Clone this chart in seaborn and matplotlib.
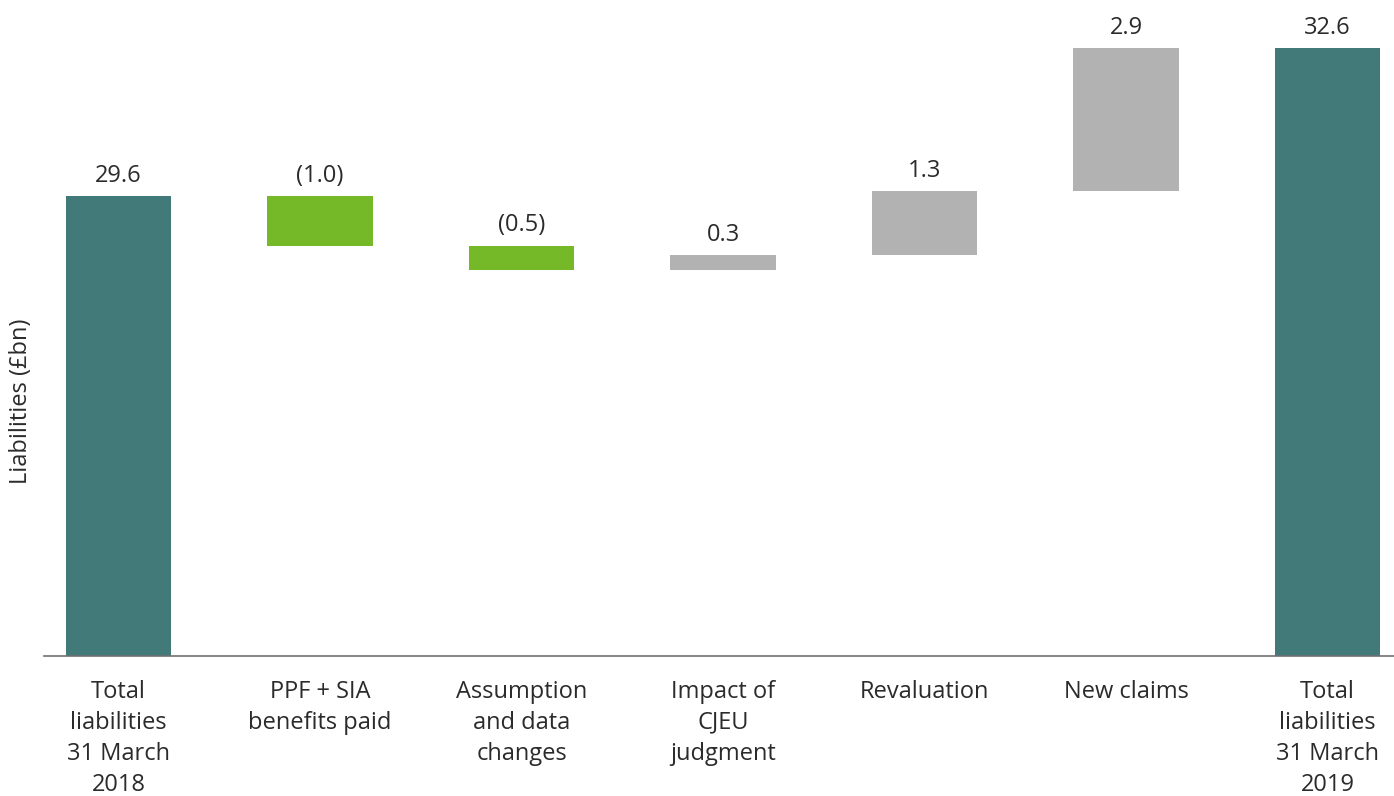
import matplotlib
matplotlib.use("Agg")
import matplotlib.pyplot as plt
import numpy as np
import pandas as pd
import seaborn as sns

# Movement in liabilities, £bn
categories = [
    "Total\nliabilities\n31 March\n2018",
    "PPF + SIA\nbenefits paid",
    "Assumption\nand data\nchanges",
    "Impact of\nCJEU\njudgment",
    "Revaluation",
    "New claims",
    "Total\nliabilities\n31 March\n2019",
]
changes = [29.6, -1.0, -0.5, 0.3, 1.3, 2.9, 32.6]
kinds = ["total", "change", "change", "change", "change", "change", "total"]

TEAL = "#427979"
GREEN = "#76b928"
GREY = "#b2b2b2"
TEXT = "#2b2b2b"

# Floating bar geometry for the waterfall
bottoms, heights = [], []
running = 0.0
for v, k in zip(changes, kinds):
    if k == "total":
        bottoms.append(0.0)
        heights.append(v)
        running = v
    else:
        lo = running + min(v, 0)
        bottoms.append(lo)
        heights.append(abs(v))
        running += v
tops = [b + h for b, h in zip(bottoms, heights)]
colors = [TEAL if k == "total" else (GREEN if v < 0 else GREY)
          for v, k in zip(changes, kinds)]

df = pd.DataFrame({"category": categories, "height": heights})

sns.set_theme(style="white")
plt.rcParams["font.family"] = ["Open Sans", "DejaVu Sans"]

fig = plt.figure(figsize=(13.94, 7.96), dpi=100)
ax = fig.add_axes([44 / 1394, 140 / 796, 1 - 44 / 1394, 656 / 796])

sns.barplot(data=df, x="category", y="height", hue="category",
            palette=colors, legend=False, width=0.525, ax=ax,
            linewidth=0, saturation=1)

# Lift each bar onto its running-total base
for p in ax.patches:
    i = int(round(p.get_x() + p.get_width() / 2))
    p.set_y(bottoms[i])
    p.set_height(heights[i])

for i, (v, t) in enumerate(zip(changes, tops)):
    label = f"({abs(v):.1f})" if v < 0 else f"{v:.1f}"
    ax.annotate(label, (i, t), xytext=(0, 6), textcoords="offset points",
                ha="center", va="bottom", fontsize=17, color=TEXT)

ax.set_ylim(20.28, 33.58)
ax.set_xlim(-0.37, 6.33)
ax.set_yticks([])
ax.set_xlabel("")
ax.set_ylabel("Liabilities (£bn)", fontsize=17, color=TEXT)
ax.yaxis.set_label_coords(-0.0082, 0.389)
ax.tick_params(axis="x", length=0, pad=17, labelsize=17, labelcolor=TEXT)
for lbl in ax.get_xticklabels():
    lbl.set_linespacing(1.39)

for side in ["top", "right", "left"]:
    ax.spines[side].set_visible(False)
ax.spines["bottom"].set_color("#707070")
ax.spines["bottom"].set_linewidth(1.2)

fig.savefig("out.png", dpi=100)
